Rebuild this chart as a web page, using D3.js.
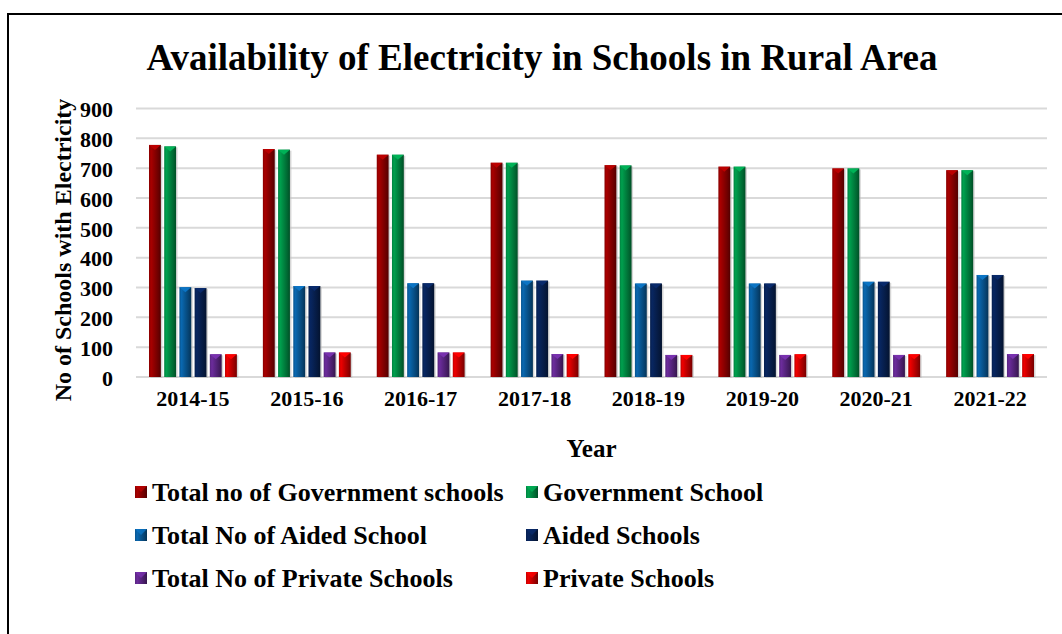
<!DOCTYPE html>
<html>
<head>
<meta charset="utf-8">
<script src="https://cdn.jsdelivr.net/npm/d3@7"></script>
<style>
  body { margin: 0; background: #fff; }
  svg text { font-family: "Liberation Serif", "Times New Roman", serif; font-weight: bold; fill: #000; }
</style>
</head>
<body>
<div id="chart"></div>
<script>
// chart data
const years = ["2014-15", "2015-16", "2016-17", "2017-18", "2018-19", "2019-20", "2020-21", "2021-22"];
const seriesNames = [
    "Total no of Government schools", "Government School",
    "Total No of Aided School", "Aided Schools",
    "Total No of Private Schools", "Private Schools"
];
const totalGovt    = [778, 764, 745, 718, 710, 705, 699, 693];
const govt         = [773, 762, 745, 718, 709, 705, 699, 693];
const totalAided   = [301, 305, 314, 323, 313, 313, 319, 342];
const aided        = [298, 305, 314, 323, 313, 313, 319, 342];
const totalPrivate = [76, 82, 82, 77, 74, 74, 74, 77];
const privateSch   = [76, 82, 82, 77, 74, 76, 76, 77];
const yTicks = [0, 100, 200, 300, 400, 500, 600, 700, 800, 900];

const seriesValues = [totalGovt, govt, totalAided, aided, totalPrivate, privateSch];
const colors = ["#a80000", "#00a04e", "#0a68b0", "#082660", "#6c2c9c", "#ee0000"];

const W = 1062, H = 634;
const plot = {left: 136, right: 1047, top: 108.5, bottom: 377};

const svg = d3.select("#chart").append("svg")
    .attr("width", W)
    .attr("height", H);

// outer frame (only top and left edges fall inside the picture)
svg.append("rect")
    .attr("x", 8).attr("y", 14)
    .attr("width", 1200).attr("height", 800)
    .attr("fill", "#fff")
    .attr("stroke", "#000")
    .attr("stroke-width", 2);

// bevel-like gradients for each series
const defs = svg.append("defs");
colors.forEach((c, i) => {
    const base = d3.color(c);
    const g = defs.append("linearGradient")
        .attr("id", "grad" + i)
        .attr("x1", 0).attr("x2", 1).attr("y1", 0).attr("y2", 0);
    g.append("stop").attr("offset", "0%").attr("stop-color", base.darker(0.6));
    g.append("stop").attr("offset", "18%").attr("stop-color", base);
    g.append("stop").attr("offset", "45%").attr("stop-color", base.darker(0.5));
    g.append("stop").attr("offset", "80%").attr("stop-color", base.darker(1.3));
    g.append("stop").attr("offset", "100%").attr("stop-color", base.darker(2));
});

const x0 = d3.scaleBand()
    .domain(years)
    .range([plot.left, plot.right])
    .padding(0);

const x1 = d3.scaleBand()
    .domain(d3.range(seriesNames.length))
    .range([13, x0.bandwidth() - 13])
    .paddingInner(0.22);

const y = d3.scaleLinear()
    .domain([0, 900])
    .range([plot.bottom, plot.top]);

// gridlines
svg.append("g")
    .selectAll("line")
    .data(yTicks)
    .join("line")
    .attr("x1", plot.left)
    .attr("x2", plot.right)
    .attr("y1", d => y(d))
    .attr("y2", d => y(d))
    .attr("stroke", "#d9d9d9")
    .attr("stroke-width", 2);

// y axis labels
svg.append("g")
    .selectAll("text")
    .data(yTicks)
    .join("text")
    .attr("x", 113)
    .attr("y", d => y(d) + 1)
    .attr("dy", "0.35em")
    .attr("text-anchor", "end")
    .style("font-size", "22px")
    .text(d => d);

// bars
const groups = svg.append("g")
    .selectAll("g")
    .data(years)
    .join("g")
    .attr("transform", d => "translate(" + x0(d) + ",0)");

const bars = groups.selectAll("g")
    .data((d, i) => seriesValues.map((vals, s) => ({s: s, v: vals[i]})))
    .join("g");

// soft shadow
bars.append("rect")
    .attr("x", d => x1(d.s) + 1.5)
    .attr("y", d => y(d.v) + 1)
    .attr("width", x1.bandwidth())
    .attr("height", d => y(0) - y(d.v))
    .attr("fill", "#bbb")
    .attr("opacity", 0.6);

bars.append("rect")
    .attr("x", d => x1(d.s))
    .attr("y", d => y(d.v))
    .attr("width", x1.bandwidth())
    .attr("height", d => y(0) - y(d.v))
    .attr("fill", d => "url(#grad" + d.s + ")");

// top bevel facet
bars.append("path")
    .attr("d", d => {
        const bx = x1(d.s), bw = x1.bandwidth(), by = y(d.v);
        return `M${bx},${by}L${bx + bw},${by}L${bx + bw / 2},${by + 5}Z`;
    })
    .attr("fill", d => d3.color(colors[d.s]).brighter(0.3));

// x axis labels
svg.append("g")
    .selectAll("text")
    .data(years)
    .join("text")
    .attr("x", d => x0(d) + x0.bandwidth() / 2)
    .attr("y", 398)
    .attr("dy", "0.35em")
    .attr("text-anchor", "middle")
    .style("font-size", "22px")
    .text(d => d);

// titles
svg.append("text")
    .attr("x", 542)
    .attr("y", 57)
    .attr("dy", "0.35em")
    .attr("text-anchor", "middle")
    .style("font-size", "37px")
    .text("Availability of Electricity in Schools in Rural Area");

svg.append("text")
    .attr("x", (plot.left + plot.right) / 2)
    .attr("y", 448)
    .attr("dy", "0.35em")
    .attr("text-anchor", "middle")
    .style("font-size", "25px")
    .text("Year");

svg.append("text")
    .attr("transform", "translate(63,250) rotate(-90)")
    .attr("dy", "0.35em")
    .attr("text-anchor", "middle")
    .style("font-size", "24px")
    .text("No of Schools with Electricity");

// legend, two columns by three rows
const legendX = [135, 526];
const legendY = [492, 535, 578];
const legend = svg.append("g")
    .selectAll("g")
    .data(seriesNames)
    .join("g")
    .attr("transform", (d, i) => "translate(" + legendX[i % 2] + "," + legendY[Math.floor(i / 2)] + ")");

legend.append("rect")
    .attr("x", 0).attr("y", -6)
    .attr("width", 12).attr("height", 12)
    .attr("fill", (d, i) => "url(#grad" + i + ")");

legend.append("path")
    .attr("d", "M0,-6L12,-6L6,0Z")
    .attr("fill", (d, i) => d3.color(colors[i]).brighter(0.3))
    .attr("opacity", 0.8);

legend.append("text")
    .attr("x", 17)
    .attr("y", 0)
    .attr("dy", "0.35em")
    .style("font-size", "26px")
    .text(d => d);
</script>
</body>
</html>
